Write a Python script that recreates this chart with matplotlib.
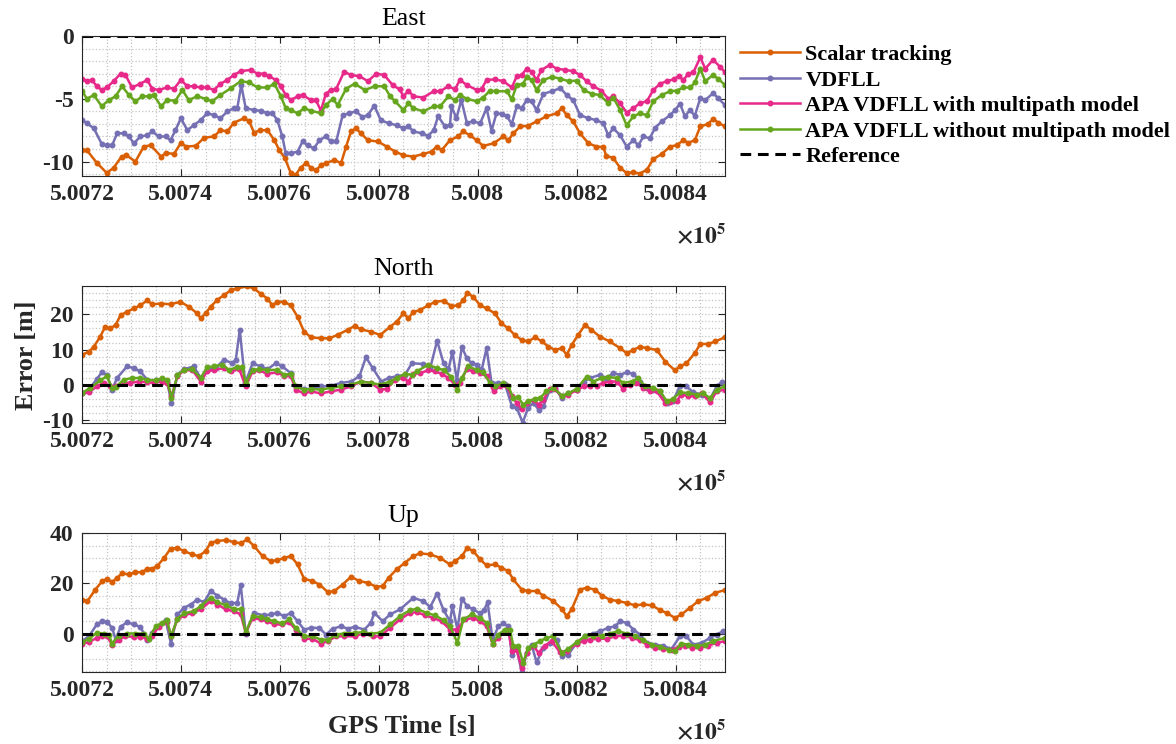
import matplotlib
matplotlib.use('Agg')
import matplotlib.pyplot as plt
from matplotlib.ticker import MultipleLocator, FuncFormatter

plt.rcParams['font.family'] = ['Liberation Serif', 'DejaVu Serif']
plt.rcParams['mathtext.fontset'] = 'stix'
plt.rcParams['axes.unicode_minus'] = False

# GPS time offsets (s) from 500720, error values (m)
T0 = 500720

east_scalar = [(0,-9.1),(1,-9.1),(3,-10.1),(5,-10.9),(6.4,-10.5),(8,-9.6),(9,-9.5),(10.8,-10.0),(12.5,-8.8),(13.9,-8.7),
    (16,-9.6),(17,-9.3),(18.6,-9.4),(20,-8.5),(21,-8.8),(23,-8.75),(24.7,-8.1),(26.7,-8.0),(28,-7.5),(29.4,-7.6),
    (30.7,-6.9),(32.8,-6.55),(33.8,-6.8),(34.8,-7.7),(36,-7.5),(37.5,-7.5),(38.9,-8.3),(39.9,-9.1),(41,-9.7),(42.2,-10.9),
    (43.2,-11.05),(44.2,-10.5),(45.3,-10.1),(46.3,-10.5),(47.3,-10.7),(48.3,-10.3),(49.3,-10.1),(51,-9.9),(52.4,-10.1),(53.4,-8.8),
    (54.4,-7.6),(55.4,-7.35),(56.4,-7.75),(57.8,-8.3),(59.8,-8.4),(61.6,-8.8),(63.3,-9.2),(65,-9.5),(67,-9.6),(69,-9.4),
    (70.7,-9.2),(71.7,-8.8),(72.7,-9.1),(74.4,-8.3),(76,-8.0),(77.1,-7.6),(78.4,-7.9),(79.8,-8.3),(81.1,-8.75),(83.2,-8.55),
    (85.2,-8.0),(86.2,-8.3),(87.2,-7.75),(88.6,-7.2),(90.2,-7.15),(91.9,-6.8),(93.9,-6.4),(96,-6.15),(97,-5.75),(98,-6.3),
    (99.3,-6.8),(100.7,-7.75),(102.4,-8.55),(104,-8.8),(105.4,-8.85),(106,-9.55),(107.4,-9.7),(108.8,-10.5),(110.1,-10.9),(111.5,-10.85),
    (112.8,-10.95),(114.2,-10.65),(115.5,-9.8),(117.2,-9.4),(118.9,-8.8),(120.2,-8.7),(121.6,-8.3),(122.6,-8.5),(123.9,-8.3),(125,-7.2),
    (126.6,-7.0),(127.6,-6.6),(128.6,-6.9),(130,-7.2)]
east_vdfll = [(0,-6.7),(1,-6.95),(2.4,-7.35),(4,-8.6),(5,-8.7),(6.1,-8.7),(7.1,-7.75),(8.4,-7.75),(9.5,-8.0),(10.5,-8.55),
    (11.8,-8.0),(13.2,-7.9),(14.2,-7.6),(15.5,-8.0),(16.9,-8.0),(17.9,-8.3),(18.9,-7.5),(20,-6.55),(21.3,-7.5),(22.6,-7.1),
    (24,-6.7),(25.3,-6.15),(26.7,-6.3),(28,-6.55),(29.4,-6.0),(30.7,-5.75),(31.4,-5.75),(32.2,-3.9),(33.1,-5.75),(34.8,-5.9),
    (36.1,-5.95),(37.5,-6.15),(38.5,-6.15),(39.5,-6.7),(40.5,-8.0),(41.2,-9.35),(42.2,-9.35),(43.6,-9.2),(44.6,-8.4),(45.6,-8.7),
    (46.9,-8.95),(48,-8.3),(49.3,-8.0),(50.3,-8.4),(51.4,-8.4),(52.7,-6.3),(54,-6.15),(55.4,-6.0),(56.7,-6.45),(57.8,-6.3),
    (59.1,-5.55),(60.4,-6.7),(62,-6.95),(63.6,-7.1),(65,-7.35),(66,-7.2),(67,-7.6),(68.7,-7.75),(70,-7.95),(71.1,-7.5),
    (72,-6.4),(73.4,-7.2),(74.4,-7.1),(74.7,-5.6),(75.7,-6.55),(76.7,-5.1),(77.8,-6.9),(79.1,-6.8),(80.5,-6.95),(81.8,-5.75),
    (82.8,-7.55),(83.8,-6.15),(84.9,-6.2),(85.9,-6.4),(86.9,-7.0),(87.9,-5.6),(88.9,-5.75),(89.9,-5.1),(90.9,-5.2),(91.9,-5.9),
    (93.3,-4.6),(95,-4.4),(96.7,-4.15),(98,-4.7),(99.3,-5.1),(100.7,-6.3),(102.4,-6.55),(104,-6.7),(105.4,-6.95),(106.4,-7.9),
    (107.4,-7.35),(108.8,-7.9),(110.1,-8.8),(111.5,-8.3),(112.5,-8.7),(113.5,-8.0),(114.8,-8.15),(115.8,-7.35),(117.2,-6.8),(118.9,-6.3),
    (119.9,-5.9),(120.9,-5.4),(121.9,-6.4),(122.9,-5.9),(123.9,-6.35),(125,-4.95),(126,-5.1),(127.6,-4.55),(128.6,-4.95),(130,-5.5)]
east_apa_mp = [(0,-3.4),(1,-3.6),(2,-3.5),(3,-4.0),(4,-4.3),(5,-4.1),(6.4,-3.6),(7.8,-3.0),(8.8,-3.1),(10.1,-4.1),
    (11.8,-3.8),(13.2,-3.5),(14.2,-4.2),(15.5,-4.3),(17.2,-4.1),(18.6,-4.2),(20,-3.5),(21.3,-4.0),(22.6,-4.0),(24,-4.1),
    (25.3,-4.1),(26.7,-4.3),(28,-3.8),(29.4,-3.5),(30.7,-3.1),(32.1,-2.8),(34.1,-2.7),(35.5,-3.0),(36.8,-3.0),(37.8,-3.2),
    (39.2,-3.5),(40.2,-4.0),(41.2,-4.7),(42.2,-5.1),(43.6,-4.8),(44.6,-4.7),(46.3,-5.1),(47.3,-5.1),(48.3,-5.95),(49.3,-4.6),
    (50.3,-4.3),(51.4,-4.2),(53,-2.85),(54.4,-3.1),(56.1,-3.2),(57.8,-3.6),(59.5,-3.0),(61.1,-3.1),(62.8,-3.9),(64.2,-4.25),
    (65,-4.8),(66,-4.35),(67,-4.8),(69,-4.9),(71.1,-4.4),(72.4,-4.4),(74.1,-4.0),(75.4,-4.25),(76.4,-3.5),(77.8,-3.9),
    (79.8,-4.3),(80.8,-4.2),(81.8,-3.5),(83.5,-3.45),(85.2,-3.6),(86.9,-4.1),(87.9,-3.2),(88.9,-3.1),(89.9,-2.6),(90.9,-2.85),
    (91.9,-3.5),(92.9,-2.7),(94.6,-2.3),(96,-2.6),(97.7,-2.7),(99.3,-2.8),(100.7,-3.1),(102,-3.6),(103.4,-4.0),(105,-4.35),
    (106.4,-5.0),(107.4,-4.8),(108.8,-5.35),(110.1,-6.1),(111.5,-5.75),(112.8,-5.35),(114.2,-5.2),(115.5,-4.3),(116.9,-3.8),(118.2,-3.6),
    (119.6,-3.45),(120.6,-3.2),(121.6,-3.5),(122.6,-3.0),(123.6,-2.9),(125,-1.7),(126,-2.6),(127.6,-1.9),(129,-2.45),(130,-2.9)]
east_apa_nomp = [(0,-4.35),(1,-5.0),(2.4,-4.7),(4,-5.6),(5.4,-5.1),(6.8,-4.8),(8.1,-4.0),(9.5,-4.7),(10.8,-5.2),(12.2,-4.8),
    (13.5,-4.8),(14.5,-4.7),(16,-5.6),(17.2,-5.1),(18.9,-5.15),(20.3,-4.3),(21.6,-5.1),(23.3,-4.8),(25,-5.0),(26.3,-5.2),
    (28,-4.7),(30.1,-4.15),(32.1,-3.6),(33.8,-3.7),(35.5,-4.1),(37.5,-4.1),(38.9,-3.8),(40.2,-4.8),(41.2,-5.75),(42.2,-5.9),
    (43.6,-6.15),(44.9,-5.75),(46.3,-5.95),(48.3,-6.15),(49.3,-5.5),(50.7,-5.0),(51.7,-5.5),(53.4,-4.2),(55.1,-3.8),(57.2,-4.3),
    (59.2,-4.0),(61.1,-4.0),(62.3,-4.8),(63.3,-5.2),(65,-5.9),(66,-5.35),(67,-5.75),(69,-6.0),(71.1,-5.6),(72.4,-5.6),
    (74.1,-4.8),(75.4,-5.1),(76.4,-4.7),(77.8,-5.0),(79.8,-5.2),(81.1,-4.9),(82.5,-4.35),(83.8,-4.4),(85.9,-4.4),(86.9,-5.05),
    (87.9,-3.9),(89.2,-3.8),(89.9,-3.25),(90.9,-3.5),(91.9,-4.3),(93.3,-3.5),(95,-3.25),(96.7,-3.4),(98.4,-3.6),(100,-3.55),
    (101.4,-4.3),(103.1,-4.6),(104.7,-4.7),(106.4,-5.35),(107.4,-4.9),(108.8,-5.9),(110.1,-7.1),(111.5,-6.4),(112.8,-6.15),(114.2,-6.3),
    (115.5,-5.2),(117.2,-4.7),(118.9,-4.4),(120.2,-4.35),(121.6,-4.1),(123,-4.1),(123.9,-3.7),(125,-2.6),(126,-3.6),(127.6,-3.1),
    (128.6,-3.4),(130,-3.9)]

north_scalar = [(0,8.5),(1.4,9.4),(2.4,10.8),(3.7,13.7),(4.7,16.5),(5.7,16.0),(6.8,17.0),(7.8,19.8),(9.1,20.75),(10.5,21.7),
    (11.8,22.6),(13.2,24.0),(14.2,22.9),(15.9,23.1),(17.9,22.9),(19.9,23.6),(21.6,22.2),(23.3,20.3),(24,18.9),(25,20.3),
    (26,22.2),(27.4,24.2),(28.7,25.5),(30.1,26.9),(31.4,27.4),(33.4,28.0),(34.8,27.4),(36.1,25.9),(37.5,24.5),(38.5,22.6),
    (39.5,23.6),(40.9,23.6),(42.2,22.6),(43.6,19.3),(44.9,15.1),(46.3,13.5),(48.3,13.2),(50,13.2),(51.7,14.2),(53.7,15.6),
    (55.1,16.7),(56.4,15.75),(58.4,15.1),(60.3,14.15),(62.3,16.5),(63.6,17.9),(65,20.3),(66,18.9),(67,20.75),(68.3,21.2),
    (70,22.6),(71.4,23.6),(73.1,23.9),(74.7,22.4),(76.1,22.6),(77.1,24.0),(77.9,26.2),(79.1,25.0),(80.5,22.6),(81.8,21.7),
    (83.5,20.3),(84.8,17.5),(86.2,16.0),(87.5,14.15),(88.9,12.7),(90.2,12.3),(91.6,13.5),(93,12.3),(94.3,10.85),(95.6,9.9),
    (97,10.4),(98,8.5),(99,11.3),(100.3,14.15),(101.7,17.0),(103,15.6),(104.7,13.7),(106.7,12.3),(108.8,10.4),(110.1,9.0),
    (111.5,9.9),(112.8,10.85),(114.2,10.4),(116.2,9.9),(117.9,6.6),(119.9,4.05),(120.9,5.2),(122.2,6.1),(123.9,9.0),(125,11.6),
    (126.6,11.6),(128,12.3),(130,13.5)]
north_vdfll = [(0,-2.4),(1.4,-1.4),(3,1.6),(4,3.5),(5,2.8),(6.1,-1.4),(7.1,1.9),(9.1,5.2),(10.5,4.7),(11.8,3.8),
    (13.2,1.4),(14.9,1.2),(16.2,1.4),(17.2,0.9),(18.1,-5.2),(19.3,2.8),(20.6,4.4),(22.6,5.2),(24,1.9),(25.3,4.2),
    (27,4.7),(28.7,7.1),(30.4,6.1),(31.1,7.1),(31.9,15.6),(33,0.5),(34.5,6.1),(36.1,5.2),(37.5,4.4),(39.2,6.1),
    (40.5,5.2),(42.2,3.3),(43.2,-0.7),(44.9,-1.2),(46.3,-1.2),(48.3,-0.5),(50.3,-0.3),(52.4,0.5),(54.4,0.9),(56.1,2.4),
    (57.4,7.8),(58.8,4.7),(60.5,0.9),(62,1.9),(63.6,2.4),(65.3,2.8),(66.7,6.1),(69,5.9),(70.4,4.7),(71.8,12.5),
    (73.1,6.1),(74.1,4.4),(74.9,9.4),(75.8,1.2),(76.8,10.8),(77.8,7.5),(78.8,6.1),(79.8,5.7),(80.8,4.2),(81.8,10.4),
    (82.8,0.5),(84.2,0.5),(85.5,0.3),(86.9,-6.1),(87.9,-6.6),(89.1,-10.8),(90.2,-6.6),(91.3,-5.2),(92.3,-7.1),(93.3,-6.1),
    (94.6,-1.4),(95.6,-0.9),(97,-3.8),(98.3,-2.5),(100,-1.4),(101.4,0.9),(102.7,1.9),(104.7,2.8),(106,1.9),(107.4,3.3),
    (108.8,2.8),(110.1,3.5),(111.5,3.1),(112.8,0.9),(114.2,-0.9),(115.5,-1.4),(116.9,-1.9),(118.2,-5.2),(119.5,-4.7),(120.9,-0.3),
    (122.2,-0.5),(123.6,-2.2),(125.3,-2.8),(127,-4.05),(128.3,-0.5),(129.3,0.7),(130,0)]
north_apa_mp = [(0,-2.5),(1.4,-2.2),(3,-0.5),(4.4,0.5),(5.7,-0.5),(6.8,-0.5),(8.4,0.5),(9.8,0.5),(11.5,0.9),(13.2,0.7),
    (14.5,0.5),(16.2,0.9),(17.2,0.5),(18.1,-3.3),(19.3,2.4),(20.6,4.05),(22.3,4.2),(24,0.9),(25.3,3.8),(26.7,4.2),
    (28.7,4.7),(30.1,3.8),(31.8,4.4),(33.1,-0.5),(34.5,3.8),(35.8,4.05),(37.5,3.1),(39.5,3.5),(40.9,2.4),(42.2,2.5),
    (43.2,-1.4),(44.9,-2.5),(46.3,-1.9),(48.3,-2.5),(50.3,-1.9),(52.4,-1.4),(54.4,-0.5),(56.4,0.9),(58.4,0.5),(60.3,-1.4),
    (61.6,-1.2),(63.3,1.4),(65,1.9),(66,0.9),(67,3.1),(68.3,3.3),(70,4.05),(71.4,3.8),(72.7,3.1),(74.1,1.9),
    (75.4,0),(76.4,0.5),(77.8,4.4),(79.1,3.8),(80.5,3.3),(81.8,2.4),(83.2,-1.9),(84.5,-0.5),(85.9,-0.5),(86.9,-3.3),
    (87.9,-5.2),(88.9,-6.9),(89.9,-5.2),(91.3,-4.25),(92.3,-5.7),(93.3,-4.25),(94.6,-1.2),(95.6,-1.2),(97,-3.3),(98.3,-2.8),
    (100,-1.6),(101.4,-0.5),(102.7,-0.3),(104.1,-0.3),(105.4,0.5),(106.7,0.9),(108.1,0.9),(109.4,-1.2),(110.8,0),(112.1,0.5),
    (113.5,-0.9),(114.8,-1.9),(116.2,-1.9),(117.9,-5.2),(118.9,-5.0),(120.2,-4.7),(121.2,-2.8),(122.6,-3.3),(123.9,-3.3),(125.3,-2.5),
    (127,-5.0),(128.3,-1.9),(130,-1.4)]
north_apa_nomp = [(0,-2.4),(1.7,-0.9),(3.7,1.2),(5,2.4),(6.1,-0.9),(6.8,-0.7),(8.4,1.4),(10.1,1.9),(11.8,1.9),(13.2,1.4),
    (14.9,1.2),(16.2,1.9),(17.2,1.4),(18.1,-3.8),(19.3,2.8),(20.6,4.2),(22.3,4.4),(24,1.9),(25.3,5.0),(26.7,5.2),
    (28.4,5.7),(29.7,4.2),(31.4,5.0),(32.4,5.0),(33.1,0.5),(34.5,4.2),(35.8,4.4),(37.5,4.2),(39.5,4.2),(40.9,2.8),
    (42.2,3.1),(43.2,-0.5),(44.9,-1.4),(46.3,-1.2),(48.3,-1.4),(50.3,-0.9),(52.4,-0.5),(54.4,0),(56.4,0.9),(58.4,0.5),
    (60.3,0),(62.3,0.9),(63.6,1.9),(65.3,3.1),(66.7,2.8),(67.7,3.8),(70,5.7),(71.7,4.7),(73.1,4.2),(74.7,2.2),
    (75.9,-1.4),(76.8,1.9),(78.1,5.2),(79.8,4.2),(81.1,3.5),(82.5,0.5),(83.5,-0.5),(85.2,0.5),(86.2,-0.5),(87.2,-3.8),
    (88.2,-3.5),(89.2,-5.7),(90.2,-4.7),(91.6,-4.05),(92.6,-3.8),(93.9,-1.9),(95.3,-0.9),(97,-3.1),(98.3,-2.5),(100,-1.2),
    (102,2.2),(103.4,0.9),(105.1,1.9),(106.4,2.2),(108.1,1.9),(109.4,0.5),(111.1,0.9),(112.5,1.9),(113.8,-0.5),(115.5,-0.9),
    (116.9,-1.9),(118.2,-4.7),(119.5,-4.05),(120.9,-2.2),(122.6,-2.4),(124.3,-2.8),(125.6,-2.5),(127,-3.8),(128.3,-1.4),(130,-0.5)]

up_scalar = [(0,13.5),(1.1,12.9),(2.7,17.5),(4.1,20.85),(5.1,21.8),(6.1,20.45),(7.1,22.2),(8.1,23.9),(9.5,23.5),(10.8,24.4),
    (12.2,24.4),(13.2,25.8),(14.2,25.8),(15.2,26.8),(16.6,30.1),(17.9,33.7),(19.3,34.1),(20.6,32.8),(22.3,31.5),(23.6,30.8),
    (25,32.8),(26,36.1),(27.4,36.8),(29.1,37.2),(30.7,36.4),(32.1,35.9),(33.4,37.45),(34.8,34.8),(36.5,30.8),(38.2,28.8),
    (39.5,29.2),(40.9,30.1),(42.2,30.8),(43.6,27.5),(44.9,21.8),(46.6,20.85),(48,19.5),(49.7,16.5),(51,16.9),(52.7,19.5),
    (54.4,22.6),(56.1,20.85),(57.8,20.2),(59.5,18.6),(60.8,18.9),(62,22.2),(63.6,25.5),(65.3,28.2),(67,30.8),(68.3,31.9),
    (70.4,31.5),(72.4,30.1),(74.4,27.5),(75.4,28.8),(76.8,30.8),(77.9,34.1),(79.1,32.8),(80.5,29.5),(81.8,27.1),(83.5,27.5),
    (84.8,26.2),(86.2,24.8),(87.2,21.5),(88.9,17.5),(90.2,16.9),(91.9,16.9),(93.3,15.1),(95.3,12.9),(97,9.8),(98,6.9),
    (99,9.6),(100.7,17.5),(102,18.2),(103.7,17.5),(105.1,15.1),(106.7,13.5),(108.4,12.9),(110.1,12.2),(111.8,11.2),(113.5,11.6),
    (115.2,11.2),(116.9,9.3),(118.2,8.2),(119.9,6.2),(121.2,7.6),(122.9,10.2),(124.6,12.9),(126.3,14.2),(128,16.2),(130,17.3)]
up_vdfll = [(0,-3.05),(1.4,-1.1),(3,3.6),(4.1,4.9),(5.1,4.5),(6.1,2.25),(6.8,-2.4),(7.8,2.65),(9.1,4.5),(10.5,3.6),
    (11.8,2.65),(13.2,-2.4),(14.2,0.3),(15.5,2.9),(16.9,5.3),(18,-4.0),(19.3,7.6),(20.6,10.2),(22,11.55),(23.3,13.5),
    (24.7,12.5),(26,16.9),(27.4,15.1),(28.7,13.5),(30.1,12.0),(31.4,12.2),(32.1,19.5),(33.1,0),(34.8,8.2),(36.8,7.2),
    (38.2,7.6),(39.5,8.2),(40.9,6.9),(42.2,8.2),(43.6,4.9),(44.9,1.6),(46.3,2.25),(48,2.25),(49.3,-0.4),(50.7,1.9),
    (52.4,2.9),(53.7,1.9),(55.1,2.65),(57.1,1.6),(58.4,4.25),(59.1,8.2),(60.8,4.9),(62.3,7.6),(64.3,9.6),(67,14.2),
    (69,12.9),(70.4,10.6),(71.8,15.9),(73.1,9.3),(74.4,4.9),(74.9,10.9),(75.9,1.6),(76.8,13.8),(77.9,10.9),(79.1,9.6),
    (80.5,8.0),(81.3,9.3),(82,12.5),(83,-2.4),(84.2,2.9),(85.2,4.0),(86.2,2.9),(86.9,-8.4),(87.9,-6.1),(88.9,-15.4),
    (89.9,-7.7),(90.9,-4.4),(91.9,-11.4),(93.3,-5.7),(94.6,-3.7),(96,-2.4),(97,-8.8),(98.3,-8.4),(100,-3.7),(101.7,-1.1),
    (103.4,0),(104.7,0.9),(106.4,2.25),(107.8,2.9),(108.8,4.9),(110.1,4.25),(111.5,1.6),(112.8,-0.4),(114.2,-3.7),(115.8,-4.4),
    (117.5,-5.0),(119.2,-6.1),(120.9,-1.1),(122.2,-1.1),(123.6,-4.4),(125.3,-3.7),(127,-1.7),(128.3,-0.4),(129.6,0.9)]
up_apa_mp = [(0,-4.0),(1.4,-3.45),(3,-1.7),(4,-1.1),(5,-1.1),(6.1,-4.4),(7.4,-2.4),(8.8,-1.1),(10.5,-1.3),(11.8,-1.3),
    (13.2,-2.1),(14.2,-1.1),(15.5,2.65),(17.2,4.5),(18,-1.1),(19.3,5.6),(20.6,7.2),(22.3,8.2),(24,9.6),(26,12.9),
    (27.4,11.55),(29.1,9.6),(30.7,8.9),(32.1,7.6),(33.1,0.3),(34.5,6.2),(36.1,5.6),(37.5,4.9),(38.9,3.6),(40.5,3.6),
    (41.9,4.5),(43.2,1.6),(44.9,-2.1),(46.6,-2.1),(48.3,-4.0),(49.7,-3.05),(51.4,-1.1),(53,-1.1),(55.1,-1.1),(56.8,0),
    (58.8,-1.1),(60.3,-1.1),(62.3,2.25),(64.3,5.6),(66.3,8.2),(67.7,8.5),(69.4,7.2),(71,6.2),(72.7,4.9),(74.4,1.6),
    (75.8,1.6),(77.4,5.6),(79.1,6.2),(80.5,4.9),(81.8,2.9),(83,-4.0),(84.2,-1.7),(85.5,0.9),(86.2,1.6),(86.9,-7.0),
    (87.9,-6.6),(88.9,-13.7),(89.9,-7.7),(91.3,-5.0),(92.3,-7.7),(93.6,-4.8),(95,-3.05),(96.6,-7.4),(98,-7.0),(100,-4.0),
    (101.4,-3.05),(102.7,-2.4),(104.4,-2.1),(106.1,-2.1),(107.8,-1.1),(109.4,-0.8),(111.1,-1.7),(112.8,-2.65),(114.2,-4.4),(115.8,-5.7),
    (117.5,-6.1),(119.2,-6.6),(120.6,-5.3),(121.9,-4.8),(123.3,-5.7),(125,-5.7),(126.6,-4.8),(128.3,-3.7),(130,-3.05)]
up_apa_nomp = [(0,-3.45),(1.4,-2.1),(3,0.3),(4.4,0),(5.4,-0.4),(6.1,-4.0),(7.4,-0.8),(9.1,0),(10.8,0),(12.5,0),
    (13.5,-2.1),(14.9,2.9),(16.2,4.25),(17.2,5.3),(18,-1.1),(19.3,5.8),(20.6,8.0),(22.6,8.9),(24,10.9),(26,14.2),
    (27.4,12.5),(29.1,11.2),(30.7,9.8),(32.1,9.6),(33.1,0.5),(34.5,6.9),(36.1,6.6),(37.5,5.6),(38.9,4.9),(40.5,4.0),
    (41.9,5.6),(43.2,2.25),(44.9,-1.1),(46.6,-1.1),(48.3,-2.4),(49.7,-2.4),(51.4,-0.4),(53,0),(55.1,0.3),(56.8,0.5),
    (58.4,0),(60.3,0.3),(62.3,3.6),(64.3,6.9),(66.3,9.3),(67.7,9.8),(69.7,8.2),(71.4,7.2),(73.1,5.3),(74.4,2.9),
    (75.9,-3.7),(77.1,5.6),(78.8,7.6),(80.5,6.2),(81.8,4.25),(83,-4.0),(84.2,-0.4),(85.5,1.6),(86.5,1.6),(87.2,-4.8),
    (88.2,-5.0),(89.2,-11.7),(90.2,-5.7),(91.3,-4.4),(92.6,-3.05),(93.9,-1.7),(95.3,-1.1),(97,-7.7),(98.3,-6.1),(100,-3.45),
    (101.7,-1.1),(103.4,-0.8),(105.1,-0.8),(106.7,0),(108.4,0.9),(110.1,0),(111.8,-1.1),(113.5,-2.65),(115.2,-4.4),(116.9,-5.3),
    (118.6,-6.4),(119.9,-7.0),(121.2,-4.0),(122.6,-4.4),(124.3,-5.0),(126,-4.4),(127.6,-3.05),(130,-1.7)]

labels = ['Scalar tracking', 'VDFLL', 'APA VDFLL with multipath model',
          'APA VDFLL without multipath model', 'Reference']
colors = ['#D95F02', '#7570B3', '#E7298A', '#66A61E']

panels = [
    ('East', [east_scalar, east_vdfll, east_apa_mp, east_apa_nomp], (-11.15, 0), 5, 1,
     [0.0697, 0.7634, 0.5468, 0.1882]),
    ('North', [north_scalar, north_vdfll, north_apa_mp, north_apa_nomp], (-10.9, 28.1), 10, 2,
     [0.0697, 0.4315, 0.5468, 0.1841]),
    ('Up', [up_scalar, up_vdfll, up_apa_mp, up_apa_nomp], (-15.3, 40), 20, 5,
     [0.0697, 0.0968, 0.5468, 0.1868]),
]

def xfmt(v, pos):
    s = '%.4f' % (v / 1e5)
    return s.rstrip('0').rstrip('.')

fig = plt.figure(figsize=(11.76, 7.44), dpi=100)

for title, series, ylim, ymaj, ymin, rect in panels:
    ax = fig.add_axes(rect)
    handles = []
    for data, c in zip(series, colors):
        t = [T0 + p[0] for p in data]
        v = [p[1] for p in data]
        h, = ax.plot(t, v, '-', color=c, lw=1.8, marker='.', ms=6.5)
        handles.append(h)
    h, = ax.plot([T0, T0 + 130], [0, 0], '--', color='black', lw=2.2, dashes=(3.5, 2.2))
    handles.append(h)
    ax.set_xlim(T0, T0 + 130)
    ax.set_ylim(*ylim)
    ax.xaxis.set_major_locator(MultipleLocator(20))
    ax.xaxis.set_minor_locator(MultipleLocator(5))
    ax.xaxis.set_major_formatter(FuncFormatter(xfmt))
    ax.yaxis.set_major_locator(MultipleLocator(ymaj))
    ax.yaxis.set_minor_locator(MultipleLocator(ymin))
    ax.grid(which='both', color='#c4c4c4', linestyle=':', linewidth=0.9)
    ax.tick_params(which='major', direction='in', top=True, right=True, length=5,
                   width=0.8, labelsize=17, colors='#262626', pad=6)
    ax.tick_params(which='minor', length=0)
    for lab in ax.get_xticklabels() + ax.get_yticklabels():
        lab.set_fontweight('bold')
    for sp in ax.spines.values():
        sp.set_color('#262626')
        sp.set_linewidth(0.8)
    ax.set_title(title, fontsize=18.7, pad=8)
    ax.annotate(r'$\mathbf{\times 10^{5}}$', xy=(1, 0), xycoords='axes fraction',
                xytext=(1, -43), textcoords='offset points', ha='right', va='center',
                fontsize=17, color='#262626')

fig.text(27 / 1176, 1 - 355 / 744, 'Error [m]', rotation=90, ha='center', va='center',
         fontsize=18.7, fontweight='bold', color='#262626')
fig.text(402 / 1176, 1 - 727 / 744, 'GPS Time [s]', ha='center', va='center',
         fontsize=18.7, fontweight='bold', color='#262626')

fig.legend(handles, labels, loc='upper left', bbox_to_anchor=(0.629, 0.94), frameon=False,
           prop={'weight': 'bold', 'size': 16}, handlelength=2.7, handletextpad=0.25,
           labelspacing=0.22, borderpad=0, borderaxespad=0)

fig.savefig('out.png', dpi=100)
